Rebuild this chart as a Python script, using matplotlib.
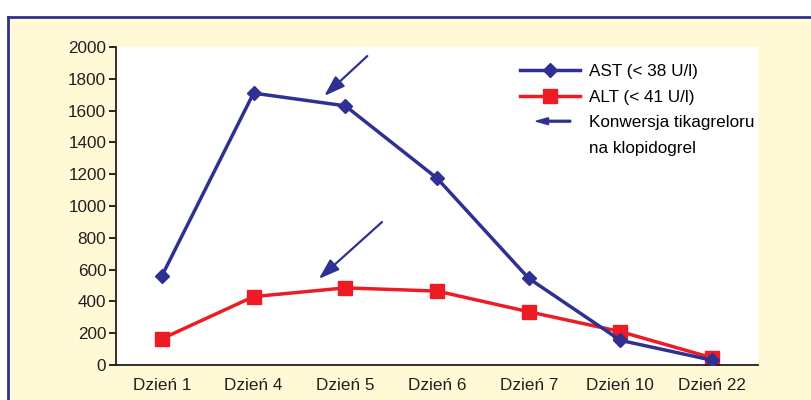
import matplotlib.pyplot as plt
import matplotlib.patches as mpatches
from matplotlib.lines import Line2D
from matplotlib.legend_handler import HandlerPatch

days = ['Dzień 1', 'Dzień 4', 'Dzień 5', 'Dzień 6', 'Dzień 7', 'Dzień 10', 'Dzień 22']
ast = [560, 1710, 1630, 1175, 545, 155, 30]
alt = [165, 430, 485, 465, 335, 210, 45]
yticks = [0, 200, 400, 600, 800, 1000, 1200, 1400, 1600, 1800, 2000]

# arrows: (tail x, tail y, head x, head y) in data units
arrows = [(2.24, 1943, 1.77, 1692), (2.40, 899, 1.71, 541)]

navy = '#2E3192'
red = '#ED1C24'
cream = '#FFF9D6'
ink = '#231F20'

plt.rcParams['font.family'] = ['Liberation Sans', 'DejaVu Sans']
fs = 12.3

fig = plt.figure(figsize=(8.12, 4.0), dpi=100)
W, H = 812, 400

# cream panel with navy border top and left
fig.patches.append(mpatches.Rectangle((8 / W, 0), 1, 1 - 16 / H, transform=fig.transFigure,
                                      facecolor=cream, edgecolor='none', zorder=-2))
fig.lines.append(Line2D([8 / W, 1], [1 - 17 / H, 1 - 17 / H], transform=fig.transFigure,
                        color=navy, lw=2, zorder=-1))
fig.lines.append(Line2D([8 / W, 8 / W], [0, 1 - 17 / H], transform=fig.transFigure,
                        color=navy, lw=2, zorder=-1))

ax = fig.add_axes([116 / W, 35 / H, (758 - 116) / W, (365 - 47) / H])
ax.set_facecolor('white')

x = range(len(days))
ax.plot(x, alt, color=red, lw=2.5, marker='s', ms=10, zorder=2)
ax.plot(x, ast, color=navy, lw=2.5, marker='D', ms=7.5, zorder=3)

for x0, y0, x1, y1 in arrows:
    ax.annotate('', xy=(x1, y1), xytext=(x0, y0),
                arrowprops=dict(arrowstyle='-|>,head_length=0.9,head_width=0.3',
                                color=navy, lw=1.6, mutation_scale=14, shrinkA=0, shrinkB=0))

ax.set_xlim(-0.5, len(days) - 0.5)
ax.set_ylim(0, 2000)
ax.set_xticks(list(x))
ax.set_xticklabels(days)
ax.set_yticks(yticks)
ax.tick_params(axis='x', length=0, pad=9, labelsize=fs, labelcolor=ink)
ax.tick_params(axis='y', length=5, width=1.2, direction='out', pad=2, labelsize=fs, labelcolor=ink)
for s in ['top', 'right']:
    ax.spines[s].set_visible(False)
for s in ['left', 'bottom']:
    ax.spines[s].set_linewidth(1.3)
    ax.spines[s].set_color(ink)


class HandlerArrow(HandlerPatch):
    def create_artists(self, legend, orig_handle, xdescent, ydescent, width, height, fontsize, trans):
        cx = width / 2 - xdescent + 2.5
        cy = height / 2 - ydescent
        p = mpatches.FancyArrow(cx + 12.5, cy, -25, 0, width=1.3, head_width=5, head_length=9,
                                length_includes_head=True, color=navy)
        p.set_transform(trans)
        return [p]


handles = [Line2D([], [], color=navy, lw=2.5, marker='D', ms=7.5),
           Line2D([], [], color=red, lw=2.5, marker='s', ms=10),
           mpatches.Patch(color=navy),
           Line2D([], [], color='none')]
labels = ['AST (< 38 U/l)', 'ALT (< 41 U/l)', 'Konwersja tikagreloru', 'na klopidogrel']
ax.legend(handles, labels, handler_map={mpatches.Patch: HandlerArrow()},
          loc='upper left', bbox_to_anchor=((520 - 116) / (758 - 116), 1 - (64 - 47) / 318),
          frameon=False, fontsize=fs, handlelength=3.5, handletextpad=0.55,
          labelspacing=0.62, borderpad=0, borderaxespad=0)

fig.savefig('out.png', dpi=100)
